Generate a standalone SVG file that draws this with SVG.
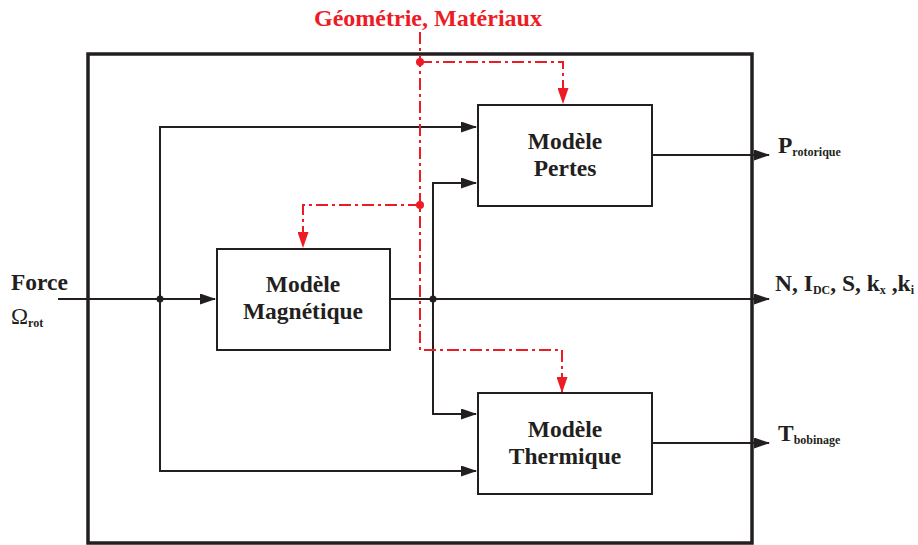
<svg xmlns="http://www.w3.org/2000/svg" width="918" height="545" viewBox="0 0 918 545">
<defs>
<marker id="ab" markerWidth="16" markerHeight="11" refX="15" refY="5.5" orient="auto" markerUnits="userSpaceOnUse"><path d="M0,0 L16,5.5 L0,11 Z" fill="#231f20"/></marker>
<marker id="ar" markerWidth="16" markerHeight="11" refX="15" refY="5.5" orient="auto" markerUnits="userSpaceOnUse"><path d="M0,0 L16,5.5 L0,11 Z" fill="#ed1c24"/></marker>
</defs>
<style>
.box{fill:#fff;stroke:#231f20;stroke-width:2}
.t{font-family:"Liberation Serif",serif;font-weight:bold;font-size:23.5px;fill:#231f20}
.s{font-family:"Liberation Serif",serif;font-weight:bold;font-size:12px;fill:#231f20}
.bl{fill:none;stroke:#231f20;stroke-width:2}
.rd{fill:none;stroke:#ed1c24;stroke-width:2;stroke-dasharray:12,4,3,4}
</style>
<rect x="0" y="0" width="918" height="545" fill="#fff"/>
<rect id="frame" x="88" y="54" width="664" height="489" fill="none" stroke="#231f20" stroke-width="3.5"/>
<g id="connectors">
<path class="bl" d="M58,299 H215" marker-end="url(#ab)"/>
<path class="bl" d="M160,299 V127 H476" marker-end="url(#ab)"/>
<path class="bl" d="M160,299 V471 H476" marker-end="url(#ab)"/>
<path class="bl" d="M390,299 H769" marker-end="url(#ab)"/>
<path class="bl" d="M433,299 V183 H476" marker-end="url(#ab)"/>
<path class="bl" d="M433,299 V414 H476" marker-end="url(#ab)"/>
<path class="bl" d="M652,155 H769" marker-end="url(#ab)"/>
<path class="bl" d="M652,443 H769" marker-end="url(#ab)"/>
<circle cx="160" cy="299" r="3.5" fill="#231f20"/>
<circle cx="433" cy="299" r="3.5" fill="#231f20"/>
<path class="rd" d="M420,32 V350 H562 V392" marker-end="url(#ar)"/>
<path class="rd" d="M420,62 H563 V103" marker-end="url(#ar)"/>
<path class="rd" d="M420,205 H303 V247" marker-end="url(#ar)"/>
<circle cx="420" cy="62" r="4" fill="#ed1c24"/>
<circle cx="420" cy="205" r="4" fill="#ed1c24"/>
</g>
<g id="pertes">
<rect class="box" x="478" y="105" width="174" height="101"/>
<text class="t" x="565" y="149" text-anchor="middle">Modèle</text>
<text class="t" x="565" y="176" text-anchor="middle">Pertes</text>
</g>
<g id="magnetique">
<rect class="box" x="217" y="249" width="173" height="101"/>
<text class="t" x="303" y="292" text-anchor="middle">Modèle</text>
<text class="t" x="303" y="319" text-anchor="middle">Magnétique</text>
</g>
<g id="thermique">
<rect class="box" x="478" y="393" width="174" height="101"/>
<text class="t" x="565" y="437" text-anchor="middle">Modèle</text>
<text class="t" x="565" y="464" text-anchor="middle">Thermique</text>
</g>
<g id="geom">
<text class="t" x="428" y="26" text-anchor="middle" style="fill:#ed1c24;font-size:24px">Géométrie, Matériaux</text>
</g>
<g id="input">
<text class="t" x="11" y="290">Force</text>
<text x="11" y="324" font-family="Liberation Serif,serif" font-size="23" fill="#231f20">Ω<tspan class="s" dy="3">rot</tspan></text>
</g>
<g id="out-p">
<text class="t" x="778" y="153">P<tspan class="s" dy="3">rotorique</tspan></text>
</g>
<g id="out-n">
<text class="t" x="775" y="291">N, I<tspan class="s" dy="3">DC</tspan><tspan dy="-3">, S, k</tspan><tspan class="s" dy="3">x</tspan><tspan dy="-3"> ,k</tspan><tspan class="s" dy="3">i</tspan></text>
</g>
<g id="out-t">
<text class="t" x="778" y="441">T<tspan class="s" dy="3">bobinage</tspan></text>
</g>
</svg>
